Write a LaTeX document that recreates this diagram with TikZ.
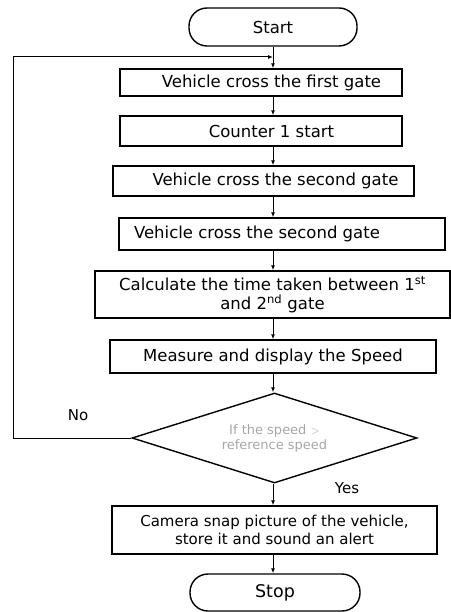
\documentclass[tikz,border=0pt]{standalone}
\usepackage{fontspec}
\setmainfont{DejaVu Sans}
\usetikzlibrary{arrows.meta,shapes.geometric}

\begin{document}
\begin{tikzpicture}[x=1pt, y=-1pt, font=\fontsize{16.5}{19}\selectfont]
\tikzset{
  stepbox/.style={draw, line width=1.4pt, align=center, inner sep=2pt},
  term/.style={draw, line width=1.4pt, rounded corners=18pt, minimum width=168pt, minimum height=38pt},
  decision/.style={draw, diamond, shape aspect=3.17, line width=1.4pt, align=center, inner sep=0pt, minimum width=285pt, minimum height=90pt, text=gray!70},
  flow/.style={-{Latex[length=5pt,width=4pt]}, line width=1pt},
}
\useasboundingbox (0,0) rectangle (450,612);
\node[term] (start) at (273,27) {Start};
\node[stepbox, minimum width=282pt, minimum height=27pt] (cross1) at (261,82.5) {\hspace{21pt}Vehicle cross the first gate};
\node[stepbox, minimum width=282pt, minimum height=30pt] (count) at (261,131) {\hspace{21pt}Counter 1 start};
\node[stepbox, minimum width=301pt, minimum height=30pt] (cross2) at (263.5,181) {\hspace{24pt}Vehicle cross the second gate};
\node[stepbox, minimum width=326pt, minimum height=32pt] (cross3) at (282,234) {\hspace{-50pt}Vehicle cross the second gate};
\node[stepbox, minimum width=355pt, minimum height=47pt] (calc) at (272.5,294.5) {Calculate the time taken between 1\textsuperscript{st}\\ and 2\textsuperscript{nd} gate};
\node[stepbox, minimum width=326pt, minimum height=33pt] (speed) at (273,356.5) {Measure and display the Speed};
\node[decision, font=\fontsize{13}{15}\selectfont] (check) at (274.5,438) {If the speed $>$\\ reference speed};
\node[stepbox, minimum width=325pt, minimum height=48pt, font=\fontsize{15}{18}\selectfont] (snap) at (274.5,530) {Camera snap picture of the vehicle,\\ store it and sound an alert};
\node[term, minimum width=170pt, minimum height=37pt, font=\fontsize{17.5}{19}\selectfont] (stop) at (275,592.5) {Stop};
\coordinate (back) at (13,57);
\node[font=\fontsize{15}{17}\selectfont] (no) at (78,415) {No};
\node[font=\fontsize{15}{17}\selectfont] (yes) at (347,488) {Yes};

\draw[flow] (start) -- (start |- cross1.north);
\draw[flow] (cross1.south -| start) -- (start |- count.north);
\draw[flow] (count.south -| start) -- (start |- cross2.north);
\draw[flow] (cross2.south -| start) -- (start |- cross3.north);
\draw[flow] (cross3.south -| start) -- (start |- calc.north);
\draw[flow] (calc.south -| start) -- (start |- speed.north);
\draw[flow] (speed.south -| start) -- (start |- check.north);
\draw[flow] (check.south -| start) -- (start |- snap.north);
\draw[flow] (snap.south -| start) -- (start |- stop.north);
\draw[flow] (check.west) -| (back) -- (back -| start);
\end{tikzpicture}
\end{document}
